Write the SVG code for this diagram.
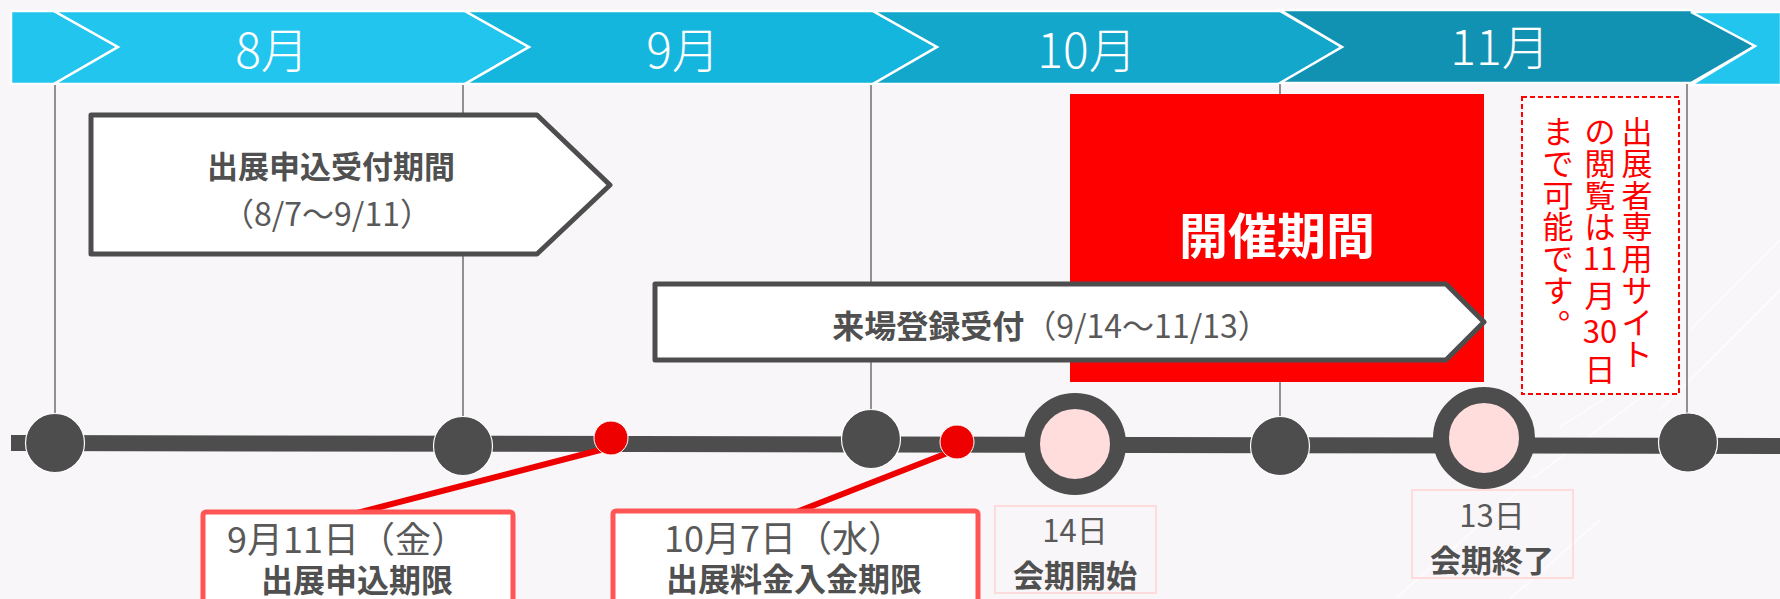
<svg xmlns="http://www.w3.org/2000/svg" width="1780" height="599" viewBox="0 0 1780 599">
<style>
.bg{fill:#F9F6F9}
.band{stroke:#FFFFFF;stroke-width:2.5;stroke-linejoin:miter}
.month{font-family:"Noto Sans CJK JP","Noto Sans",sans-serif;font-size:48px;font-weight:300;fill:#FFFFFF;text-anchor:middle}
.vline{stroke:#5A5A5A;stroke-width:1.3}
.arrowbox{fill:#FFFFFF;stroke:#4D4D4D;stroke-width:5;stroke-linejoin:round}
.t{font-family:"Noto Sans CJK JP","Noto Sans",sans-serif;fill:#595959}
.b{font-weight:bold;fill:#505050}
.mid{text-anchor:middle}
.dot{fill:#4D4D4D;stroke:#FFFFFF;stroke-width:1.2}
.ring{fill:#FFDDDD;stroke:#4D4D4D;stroke-width:16}
.rdot{fill:#EE0000;stroke:#FFFFFF;stroke-width:1}
.conn{stroke:#EE0000;stroke-width:6;stroke-linecap:round}
.redbox{fill:#FFFFFF;stroke:#FF5555;stroke-width:5}
.pinkbox{fill:none;stroke:#FFDCDC;stroke-width:2}
.vt{font-family:"Noto Sans CJK JP","Noto Sans",sans-serif;font-size:31px;fill:#FF0000;text-anchor:middle}
.streak{stroke:#FFFFFF;stroke-width:2;opacity:0.7}
</style>
<rect class="bg" x="0" y="0" width="1780" height="599"/>
<g id="background-streaks">
  <line class="streak" x1="1397" y1="597" x2="1520" y2="490"/>
  <line class="streak" x1="1533" y1="478" x2="1647" y2="393"/>
  <line class="streak" x1="1560" y1="427" x2="1613" y2="393"/>
  <line class="streak" x1="1510" y1="599" x2="1600" y2="520"/>
  <line class="streak" x1="1660" y1="410" x2="1780" y2="290"/>
  <line class="streak" x1="1690" y1="330" x2="1780" y2="240"/>
</g>
<g id="month-band">
  <polygon class="band" fill="#22C5EE" points="11,11 54,11 118,47 54,84 11,84"/>
  <polygon class="band" fill="#22C5EE" points="54,11 465,11 529,47 465,84 54,84 118,47"/>
  <polygon class="band" fill="#15B6DE" points="465,11 873,11 937,47 873,84 465,84 529,47"/>
  <polygon class="band" fill="#13A7CB" points="873,11 1280,11 1342,47 1280,84 873,84 937,47"/>
  <polygon class="band" fill="#1192B3" points="1280,10 1691,10 1755,46 1691,83 1280,83 1342,47"/>
  <polygon class="band" fill="#22C5EE" points="1691,12 1781,12 1781,85 1691,85 1755,46"/>
  <text class="month" x="272" y="68">8月</text>
  <text class="month" x="683" y="68">9月</text>
  <text class="month" x="1087" y="68">10月</text>
  <text class="month" x="1500" y="65">11月</text>
</g>
<g id="connectors">
  <line class="vline" x1="55" y1="85" x2="55" y2="414"/>
  <line class="vline" x1="463" y1="85" x2="463" y2="417"/>
  <line class="vline" x1="871" y1="85" x2="871" y2="410"/>
  <line class="vline" x1="1280" y1="84" x2="1280" y2="417"/>
  <line class="vline" x1="1687" y1="84" x2="1687" y2="413"/>
  <polygon fill="#4D4D4D" points="11,435 1780,438 1780,454 11,451"/>
  <line class="conn" x1="604" y1="449" x2="357" y2="513"/>
  <line class="conn" x1="950" y1="452" x2="794" y2="513"/>
</g>
<g id="application-period">
  <polygon class="arrowbox" points="91,115 537,115 610,185 537,254 91,254"/>
  <text class="t b mid" x="331" y="178" font-size="31">出展申込受付期間</text>
  <text class="t mid" x="327" y="226" font-size="32">（8/7～9/11）</text>
</g>
<g id="event-period">
  <rect x="1070" y="94" width="414" height="288" fill="#FF0000"/>
  <text class="mid" x="1277" y="254" font-family="'Noto Sans CJK JP','Noto Sans',sans-serif" font-size="49" font-weight="bold" fill="#FFFFFF">開催期間</text>
</g>
<g id="visitor-registration">
  <polygon class="arrowbox" points="655,284 1446,284 1484,322 1446,360 655,360"/>
  <text class="t mid" x="1051" y="338" font-size="32"><tspan class="b">来場登録受付</tspan>（9/14～11/13）</text>
</g>
<g id="site-note">
  <rect x="1522" y="97" width="157" height="297" fill="#FFFFFF" stroke="#FF0000" stroke-width="2" stroke-dasharray="5 3"/>
  <text class="vt"><tspan x="1637" y="143">出</tspan><tspan x="1637" y="175">展</tspan><tspan x="1637" y="207">者</tspan><tspan x="1637" y="238">専</tspan><tspan x="1637" y="270">用</tspan><tspan x="1637" y="302">サ</tspan><tspan x="1637" y="334">イ</tspan><tspan x="1637" y="366">ト</tspan></text>
  <text class="vt"><tspan x="1600" y="143">の</tspan><tspan x="1600" y="175">閲</tspan><tspan x="1600" y="207">覧</tspan><tspan x="1600" y="238">は</tspan><tspan x="1600" y="270">11</tspan><tspan x="1600" y="307">月</tspan><tspan x="1600" y="343">30</tspan><tspan x="1600" y="381">日</tspan></text>
  <text class="vt"><tspan x="1558" y="143">ま</tspan><tspan x="1558" y="175">で</tspan><tspan x="1558" y="207">可</tspan><tspan x="1558" y="238">能</tspan><tspan x="1558" y="270">で</tspan><tspan x="1558" y="302">す</tspan></text>
  <text class="vt" x="1566" y="318" style="text-anchor:start" dx="-8">。</text>
</g>
<g id="milestone-0">
  <circle class="dot" cx="55" cy="443" r="29.5"/>
</g>
<g id="milestone-1">
  <circle class="dot" cx="463" cy="446" r="29.5"/>
</g>
<g id="milestone-2">
  <circle class="dot" cx="871" cy="439" r="29.5"/>
</g>
<g id="milestone-3">
  <circle class="dot" cx="1280" cy="446" r="29.5"/>
</g>
<g id="milestone-4">
  <circle class="dot" cx="1688" cy="442.5" r="29.5"/>
</g>
<g id="deadline-dot-1">
  <circle class="rdot" cx="611" cy="438" r="17"/>
</g>
<g id="deadline-dot-2">
  <circle class="rdot" cx="957" cy="442" r="17"/>
</g>
<g id="start-ring">
  <circle class="ring" cx="1075" cy="444" r="43"/>
</g>
<g id="end-ring">
  <circle class="ring" cx="1484" cy="438" r="43"/>
</g>
<g id="application-deadline">
  <rect class="redbox" x="203" y="512" width="310" height="100" rx="3"/>
  <text class="t mid" x="347" y="553" font-size="36">9月11日（金）</text>
  <text class="t b mid" x="357" y="592" font-size="32">出展申込期限</text>
</g>
<g id="payment-deadline">
  <rect class="redbox" x="613" y="511" width="365" height="100" rx="3"/>
  <text class="t mid" x="784" y="552" font-size="36">10月7日（水）</text>
  <text class="t b mid" x="794" y="591" font-size="32">出展料金入金期限</text>
</g>
<g id="session-start">
  <rect class="pinkbox" x="995" y="506" width="161" height="87"/>
  <text class="t mid" x="1075" y="542" font-size="31">14日</text>
  <text class="t b mid" x="1075" y="587" font-size="31">会期開始</text>
</g>
<g id="session-end">
  <rect class="pinkbox" x="1412" y="490" width="161" height="88"/>
  <text class="t mid" x="1492" y="527" font-size="31">13日</text>
  <text class="t b mid" x="1492" y="572" font-size="31">会期終了</text>
</g>
</svg>
